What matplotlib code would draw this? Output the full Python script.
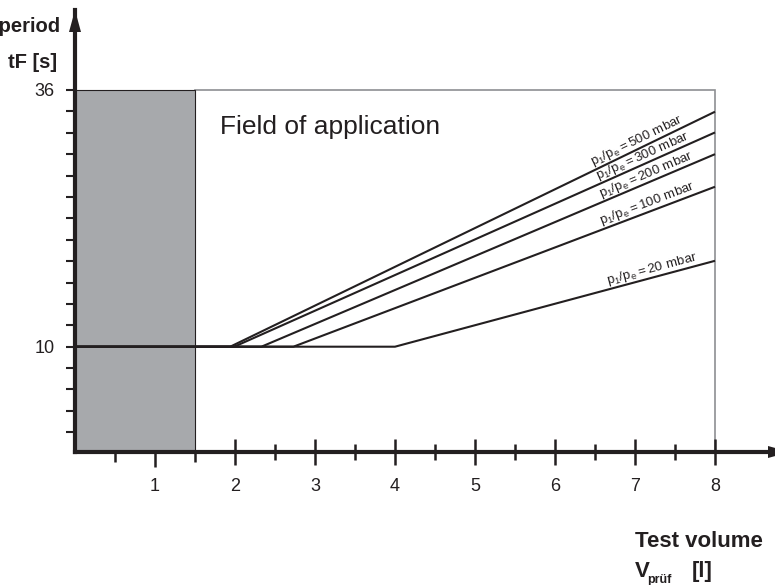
import numpy as np
import matplotlib
matplotlib.use('Agg')
import matplotlib.pyplot as plt
from matplotlib.patches import Rectangle, Polygon
from matplotlib.transforms import IdentityTransform

plt.rcParams['font.family'] = ['Liberation Sans', 'DejaVu Sans']

# ---------------- data ----------------
pressures_mbar = [500, 300, 200, 100, 20]
base_time = 10            # tF [s] at small volumes
knee_volume = [1.94, 1.99, 2.33, 2.73, 4.0]   # l, where the line starts rising
max_volume = 8
end_time = [33.8, 31.7, 29.5, 26.2, 18.7]     # tF [s] at 8 l
field_min_volume = 1.5
field_max_time = 36
x_major_ticks = [2, 3, 4, 5, 6, 7, 8]
x_major_labels = ['2', '3', '4', '5', '6', '7', '8']
x_minor_ticks = [2.5, 3.5, 4.5, 5.5, 6.5, 7.5]
x_gray_major = [1]
x_gray_labels = ['1']
x_gray_minor = [0.5, 1.5]
y_major_ticks = [10, 36]
y_major_labels = ['10', '36']

# label placement (layout only)
label_x = [6.50, 6.56, 6.60, 6.60, 6.68]

INK = '#231f20'
GRAY = '#a7a9ac'
BOX = '#8d8f92'

W, H = 775, 585
fig = plt.figure(figsize=(W / 100, H / 100), dpi=100)

ax_left, ax_right, ax_top, ax_bottom = 75, 775, 10, 452
ax = fig.add_axes([ax_left / W, 1 - ax_bottom / H,
                   (ax_right - ax_left) / W, (ax_bottom - ax_top) / H])
px_per_x = 80.0
px_per_y = (346.7 - 90.0) / 26.0
ylo = 10 - (ax_bottom - 346.7) / px_per_y
yhi = 36 + (90.0 - ax_top) / px_per_y
ax.set_xlim(0, (ax_right - ax_left) / px_per_x)
ax.set_ylim(ylo, yhi)

# background regions
ax.add_patch(Rectangle((field_min_volume, ylo), max_volume - field_min_volume,
                       field_max_time - ylo, facecolor='white', edgecolor=BOX,
                       lw=1.2, zorder=1))
ax.add_patch(Rectangle((0, ylo), field_min_volume, field_max_time - ylo,
                       facecolor=GRAY, edgecolor=INK, lw=0.8, zorder=1.5))

# curves
for p, kx, ey, lx in zip(pressures_mbar, knee_volume, end_time, label_x):
    ax.plot([0, kx, max_volume], [base_time, base_time, ey], color=INK,
            lw=1.5, zorder=3, solid_capstyle='butt')
    slope = (ey - base_time) / (max_volume - kx)
    ly = base_time + (lx - kx) * slope
    ang = np.degrees(np.arctan2(ey - base_time, max_volume - kx))
    ax.text(lx, ly, r'$\mathregular{p_1/p_e = %d\ mbar}$' % p, rotation=ang,
            rotation_mode='anchor', transform_rotates_text=True,
            ha='left', va='bottom', fontsize=9.5, color=INK, zorder=4)

ax.text(1.81, 31.54, 'Field of application', fontsize=19, va='baseline',
        ha='left', color=INK, zorder=4)

# spines
for s in ['top', 'right']:
    ax.spines[s].set_visible(False)
for s in ['left', 'bottom']:
    ax.spines[s].set_linewidth(3)
    ax.spines[s].set_color(INK)
    ax.spines[s].set_zorder(5)

# x ticks (field of application part)
ax.set_xticks(x_major_ticks, labels=x_major_labels)
ax.set_xticks(x_minor_ticks, minor=True)
ax.tick_params(axis='x', which='major', direction='inout', length=19.4,
               width=1.8, color=INK, pad=8.8, labelsize=13, labelcolor=INK)
ax.tick_params(axis='x', which='minor', direction='inout', length=11.5,
               width=1.8, color=INK)

# x ticks in gray region
sec = ax.secondary_xaxis('bottom')
sec.spines['bottom'].set_visible(False)
sec.set_xticks(x_gray_major, labels=x_gray_labels)
sec.set_xticks(x_gray_minor, minor=True)
sec.tick_params(axis='x', which='major', direction='out', length=10.8,
                width=1.8, color=INK, pad=18.5 - 10.8, labelsize=13,
                labelcolor=INK)
sec.tick_params(axis='x', which='minor', direction='out', length=7.2,
                width=1.8, color=INK)

# y ticks
step = (36 - 10) / 12
y_minor = [10 + k * step for k in range(-4, 12) if k != 0]
ax.set_yticks(y_major_ticks, labels=y_major_labels)
ax.set_yticks(y_minor, minor=True)
ax.tick_params(axis='y', which='both', direction='out', length=6.5, width=1.5,
               color=INK)
ax.tick_params(axis='y', which='major', pad=8, labelsize=13, labelcolor=INK)

# arrow heads (pixel coords, origin bottom-left)
fig.add_artist(Polygon([[ax_left, H - 10], [ax_left - 6, H - 32],
                        [ax_left + 6, H - 32]], closed=True, facecolor=INK,
                       edgecolor='none', transform=IdentityTransform(),
                       zorder=6))
fig.add_artist(Polygon([[790, H - ax_bottom], [768, H - ax_bottom + 6],
                        [768, H - ax_bottom - 6]], closed=True, facecolor=INK,
                       edgecolor='none', transform=IdentityTransform(),
                       zorder=6))

# axis titles
fig.text(60 / W, 1 - 32 / H, 'Test period', ha='right', va='baseline',
         fontsize=14.5, weight='bold', color=INK)
fig.text(57 / W, 1 - 68 / H, 'tF [s]', ha='right', va='baseline',
         fontsize=14.5, weight='bold', color=INK)
fig.text(635 / W, 1 - 547 / H, 'Test volume', ha='left', va='baseline',
         fontsize=16, weight='bold', color=INK)
fig.text(635 / W, 1 - 577 / H, 'V', ha='left', va='baseline',
         fontsize=16, weight='bold', color=INK)
fig.text(647 / W, 1 - 583 / H, 'prüf', ha='left', va='baseline',
         fontsize=9, weight='bold', color=INK)
fig.text(692 / W, 1 - 577 / H, '[l]', ha='left', va='baseline',
         fontsize=16, weight='bold', color=INK)

fig.savefig('out.png', dpi=100)
